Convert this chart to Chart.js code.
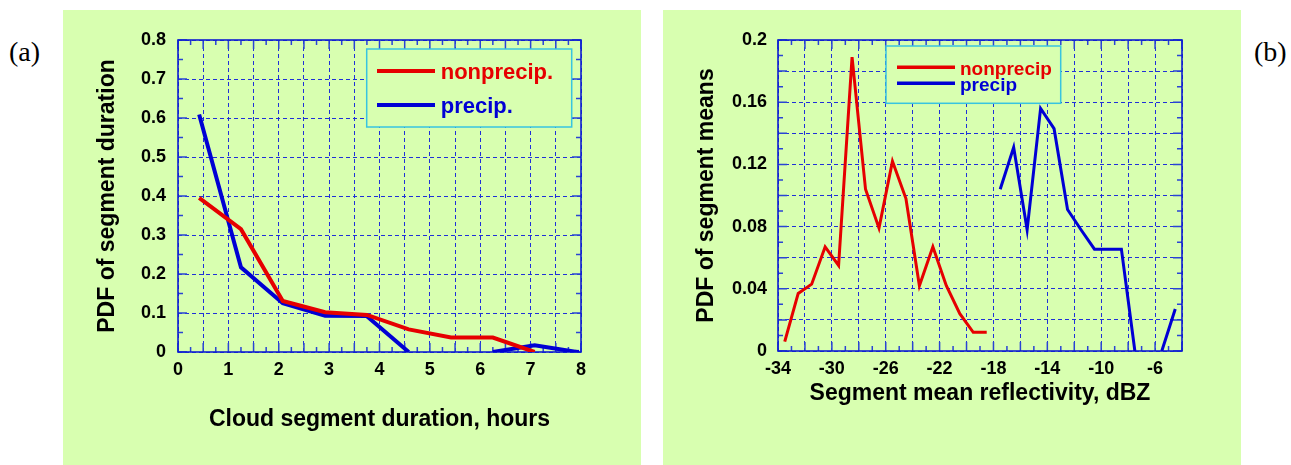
<!DOCTYPE html>
<html><head><meta charset="utf-8">
<script src="https://cdn.jsdelivr.net/npm/chart.js@4.4.1/dist/chart.umd.min.js"></script>
<style>
html,body{margin:0;padding:0;background:#fff;width:1291px;height:465px;overflow:hidden;}
.panel{position:absolute;top:10px;width:578px;height:455px;background:#d8ffb0;}
#pa{left:63px;} #pb{left:663px;}
.tag{position:absolute;top:38px;font-family:"Liberation Serif","Times New Roman",serif;font-size:28px;line-height:28px;color:#000;}
</style></head><body>
<div class="tag" style="left:9px">(a)</div>
<div class="panel" id="pa"><canvas id="ca" width="578" height="455"></canvas></div>
<div class="panel" id="pb"><canvas id="cb" width="578" height="455"></canvas></div>
<div class="tag" style="left:1254px">(b)</div>
<script>
// ---- Panel (a) data ----
const durationHours = [0.42, 1.25, 2.08, 2.92, 3.75, 4.58, 5.42, 6.25, 7.08, 7.92];
const nonprecipDuration = [0.395, 0.315, 0.131, 0.102, 0.095, 0.058, 0.037, 0.037, 0.0, null];
const precipDuration = [0.609, 0.217, 0.125, 0.093, 0.092, 0.0, null, 0.0, 0.017, 0.0];
const durationTickLabels = [0, 1, 2, 3, 4, 5, 6, 7, 8];
const durationPdfTickLabels = [0, 0.1, 0.2, 0.3, 0.4, 0.5, 0.6, 0.7, 0.8];

// ---- Panel (b) data ----
const reflBins = [-33.5, -32.5, -31.5, -30.5, -29.5, -28.5, -27.5, -26.5, -25.5, -24.5,
  -23.5, -22.5, -21.5, -20.5, -19.5, -18.5, -17.5, -16.5, -15.5, -14.5,
  -13.5, -12.5, -11.5, -10.5, -9.5, -8.5, -7.5, -6.5, -5.5, -4.5];
const nonprecipRefl = [0.006, 0.037, 0.043, 0.067, 0.055, 0.189, 0.104, 0.079, 0.122, 0.098,
  0.042, 0.067, 0.042, 0.024, 0.012, 0.012, null, null, null, null,
  null, null, null, null, null, null, null, null, null, null];
const precipRefl = [null, null, null, null, null, null, null, null, null, null,
  null, null, null, null, null, null, 0.104, 0.131, 0.078, 0.156,
  0.143, 0.091, 0.078, 0.0655, 0.0655, 0.0655, 0.0, null, 0.0, 0.027];
const reflTickLabels = [-34, -30, -26, -22, -18, -14, -10, -6];
const reflPdfTickLabels = [0, 0.04, 0.08, 0.12, 0.16, 0.2];

const RED = '#e60000', BLUE = '#0000d4';
const FONT = '"Liberation Sans", Arial, Helvetica, sans-serif';
const GRID = '#1f30d8';

function labelFor(v, list) {
  for (const t of list) if (Math.abs(v - t) < 1e-6) return String(t);
  return '';
}
function pts(xs, ys) { return xs.map((x, i) => ({x: x, y: ys[i]})); }

function frameTicksPlugin(xMinor, yMinor, xMajor, yMajor) {
  return {
    id: 'frameTicks',
    beforeDatasetsDraw(chart) {
      const {ctx, chartArea: a, scales} = chart;
      const xs = scales.x, ys = scales.y;
      ctx.save();
      ctx.strokeStyle = '#2a44d4';
      ctx.lineWidth = 1.5;
      ctx.beginPath();
      const eps = 1e-6;
      for (let v = xs.min; v <= xs.max + eps; v += xMinor) {
        const p = xs.getPixelForValue(v);
        const major = Math.abs(v / xMajor - Math.round(v / xMajor)) < 1e-4;
        const L = major ? 9 : 5;
        ctx.moveTo(p, a.bottom); ctx.lineTo(p, a.bottom - L);
        ctx.moveTo(p, a.top); ctx.lineTo(p, a.top + L);
      }
      for (let v = ys.min; v <= ys.max + eps; v += yMinor) {
        const p = ys.getPixelForValue(v);
        const major = Math.abs(v / yMajor - Math.round(v / yMajor)) < 1e-4;
        const L = major ? 9 : 5;
        ctx.moveTo(a.left, p); ctx.lineTo(a.left + L, p);
        ctx.moveTo(a.right, p); ctx.lineTo(a.right - L, p);
      }
      ctx.stroke();
      ctx.strokeStyle = '#0f1fd0';
      ctx.lineWidth = 1.6;
      ctx.strokeRect(a.left, a.top, a.right - a.left, a.bottom - a.top);
      ctx.restore();
    }
  };
}

function legendPlugin(cfg) {
  return {
    id: 'boxLegend',
    afterDatasetsDraw(chart) {
      const {ctx, chartArea: a} = chart;
      ctx.save();
      const bx = a.left + cfg.box[0], by = a.top + cfg.box[1];
      ctx.fillStyle = '#d8ffb0';
      ctx.fillRect(bx, by, cfg.box[2], cfg.box[3]);
      ctx.strokeStyle = '#38c4e0';
      ctx.lineWidth = 1.5;
      ctx.strokeRect(bx, by, cfg.box[2], cfg.box[3]);
      ctx.font = 'bold ' + cfg.fontSize + 'px ' + FONT;
      ctx.textBaseline = 'alphabetic';
      ctx.textAlign = 'left';
      chart.data.datasets.forEach((ds, i) => {
        const it = cfg.items[i];
        ctx.strokeStyle = ds.borderColor;
        ctx.lineWidth = cfg.lineWidth;
        ctx.beginPath();
        ctx.moveTo(a.left + cfg.lineX[0], a.top + it.lineY);
        ctx.lineTo(a.left + cfg.lineX[1], a.top + it.lineY);
        ctx.stroke();
        ctx.fillStyle = ds.borderColor;
        ctx.fillText(ds.label, a.left + cfg.textX, a.top + it.base);
      });
      ctx.restore();
    }
  };
}

function makeChart(id, o) {
  return new Chart(document.getElementById(id), {
    type: 'line',
    data: {
      datasets: [
        {label: o.labels[0], data: pts(o.xs, o.y1), borderColor: RED, backgroundColor: RED,
         borderWidth: o.lw, pointRadius: 0, tension: 0, spanGaps: false},
        {label: o.labels[1], data: pts(o.xs, o.y2), borderColor: BLUE, backgroundColor: BLUE,
         borderWidth: o.lw, pointRadius: o.endMarker ? o.xs.map((x, i) => i === o.xs.length - 1 ? 3 : 0) : 0,
         pointStyle: 'rect', pointBorderWidth: 0, tension: 0, spanGaps: false}
      ]
    },
    options: {
      responsive: false,
      animation: false,
      devicePixelRatio: 1,
      layout: {padding: {left: 0, top: 30, right: o.padRight, bottom: 0}},
      plugins: {legend: {display: false}, tooltip: {enabled: false}},
      scales: {
        x: {
          type: 'linear', min: o.xMin, max: o.xMax,
          ticks: {stepSize: o.xStep, autoSkip: false, maxRotation: 0, padding: 7, color: '#000',
                  font: {family: FONT, size: 18, weight: 'bold', lineHeight: 1.2},
                  callback: v => labelFor(v, o.xLabels)},
          grid: {color: GRID, lineWidth: 1, drawTicks: false},
          border: {display: false, dash: [4, 3]},
          title: {display: true, text: o.xTitle, color: '#000',
                  font: {family: FONT, size: 23, weight: 'bold', lineHeight: 1},
                  padding: {top: 0, bottom: o.xTitlePad}},
          afterFit: s => { s.height = o.xHeight; }
        },
        y: {
          type: 'linear', min: o.yMin, max: o.yMax,
          ticks: {stepSize: o.yStep, autoSkip: false, padding: o.yTickPad, color: '#000',
                  font: {family: FONT, size: 18, weight: 'bold', lineHeight: 1.2},
                  callback: v => labelFor(v, o.yLabels)},
          grid: {color: GRID, lineWidth: 1, drawTicks: false},
          border: {display: false, dash: [4, 3]},
          title: {display: true, text: o.yTitle, color: '#000',
                  font: {family: FONT, size: 23, weight: 'bold', lineHeight: 1},
                  padding: {top: o.yTitlePad, bottom: 0}},
          afterFit: s => { s.width = 115; }
        }
      }
    },
    plugins: [frameTicksPlugin(o.xMinor, o.yMinor, o.xStep, o.yStep), legendPlugin(o.legend)]
  });
}

makeChart('ca', {
  xs: durationHours, y1: nonprecipDuration, y2: precipDuration,
  labels: ['nonprecip.', 'precip.'], lw: 4, endMarker: true,
  xMin: 0, xMax: 8, xStep: 0.5, xMinor: 0.25, xLabels: durationTickLabels,
  yMin: 0, yMax: 0.8, yStep: 0.1, yMinor: 0.05, yLabels: durationPdfTickLabels,
  xTitle: 'Cloud segment duration, hours', yTitle: 'PDF of segment duration',
  padRight: 60, xHeight: 113, xTitlePad: 33.5, yTitlePad: 33.5, yTickPad: 12,
  legend: {box: [188.7, 9, 205, 78], lineX: [199, 257], textX: 262.7, fontSize: 22, lineWidth: 4,
           items: [{lineY: 31, base: 39.3}, {lineY: 65, base: 73.3}]}
});

makeChart('cb', {
  xs: reflBins, y1: nonprecipRefl, y2: precipRefl,
  labels: ['nonprecip', 'precip'], lw: 3, endMarker: false,
  xMin: -34, xMax: -4, xStep: 2, xMinor: 1, xLabels: reflTickLabels,
  yMin: 0, yMax: 0.2, yStep: 0.02, yMinor: 0.01, yLabels: reflPdfTickLabels,
  xTitle: 'Segment mean reflectivity, dBZ', yTitle: 'PDF of segment means',
  padRight: 59, xHeight: 114, xTitlePad: 59.5, yTitlePad: 32.5, yTickPad: 11,
  legend: {box: [108, 6, 174.7, 57.3], lineX: [119, 177], textX: 182, fontSize: 19, lineWidth: 3.5,
           items: [{lineY: 27.3, base: 35}, {lineY: 43.3, base: 51}]}
});
</script>
</body></html>
